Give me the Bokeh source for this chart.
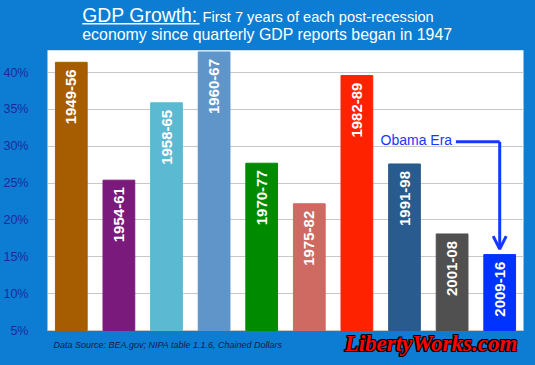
import math
from bokeh.plotting import figure
from bokeh.models import Range1d, FixedTicker, PrintfTickFormatter, Arrow, OpenHead, ColumnDataSource
from bokeh.core.properties import value
from bokeh.embed import file_html
from bokeh.resources import INLINE

# GDP growth over the first 7 years of each post-recession expansion (%)
periods = ["1949-56", "1954-61", "1958-65", "1960-67", "1970-77",
           "1975-82", "1982-89", "1991-98", "2001-08", "2009-16"]
growth = [41.4, 25.4, 35.9, 42.8, 27.7, 22.2, 39.6, 27.6, 18.1, 15.3]
bar_colors = ["#a65c00", "#7a1a7c", "#5bb9d1", "#5f95c8", "#008a00",
              "#cf6a62", "#ff2200", "#2a5b8e", "#505050", "#0033ff"]
y_ticks = [5, 10, 15, 20, 25, 30, 35, 40]
y_min, y_max = 5, 43

BG = "#0c7dd2"
W, H = 535, 365
LEFT, RIGHT = 44, 12          # page margins beside the white chart panel
PANEL_TOP, PANEL_BOTTOM = 50, 330   # page rows of the white chart panel

# The plotting frame spans the full page height so the heading and the
# source line share it; the value range is widened to keep the panel in place.
ppu = (PANEL_BOTTOM - PANEL_TOP) / (y_max - y_min)
y_lo = y_min - (H - PANEL_BOTTOM) / ppu
y_hi = y_max + PANEL_TOP / ppu

p = figure(width=W, height=H, output_backend="svg", toolbar_location=None,
           x_range=Range1d(-0.5, len(periods) - 0.5), y_range=Range1d(y_lo, y_hi),
           min_border_left=LEFT, min_border_right=RIGHT,
           min_border_top=0, min_border_bottom=0,
           background_fill_color=BG, border_fill_color=BG,
           outline_line_color=None)
p.styles = {"background-color": BG}
# page-pixel coordinates (y grows downward) for the heading and footer text
p.extra_y_ranges = {"px": Range1d(H, 0)}

p.xaxis.visible = False
p.xgrid.visible = False

# white chart panel beneath the grid
p.quad(left=[-0.5], right=[len(periods) - 0.5], bottom=[y_min], top=[y_max],
       fill_color="white", line_color="#cfe0f2", line_width=1, level="image")

p.ygrid.grid_line_color = "#c8c8c8"
p.ygrid.grid_line_width = 1.2
p.ygrid.ticker = FixedTicker(ticks=y_ticks)

ax = p.yaxis[0]
ax.ticker = FixedTicker(ticks=y_ticks)
ax.formatter = PrintfTickFormatter(format="%d%%")
ax.axis_line_color = None
ax.major_tick_line_color = None
ax.minor_tick_line_color = None
ax.major_label_standoff = 13
ax.major_label_text_font = "Liberation Sans"
ax.major_label_text_font_size = "12.5px"
ax.major_label_text_color = "#1a2a9e"

src = ColumnDataSource(dict(x=list(range(len(periods))), top=growth,
                            color=bar_colors, label=periods))
p.vbar(x="x", top="top", bottom=y_min, width=0.667, color="color", source=src)

sans = value("Liberation Sans")

# period names written up the inside of each bar
p.text(x="x", y="top", text="label", source=src, angle=math.pi / 2,
       text_align="right", text_baseline="middle", y_offset=7,
       text_color="white", text_font=sans,
       text_font_style="bold", text_font_size="15px")

# "Obama Era" callout pointing at the last bar
era_color = "#1438ff"
era_y = 30.6
last = len(periods) - 1
p.text(x=[last - 1], y=[era_y + 0.3], text=["Obama Era"], text_align="right",
       text_baseline="middle", text_color=era_color,
       text_font=sans, text_font_size="14px")
p.line(x=[last - 0.92, last], y=[era_y, era_y], line_color=era_color, line_width=3)
p.add_layout(Arrow(x_start=last, y_start=era_y, x_end=last, y_end=growth[last] + 0.75,
                   line_color=era_color, line_width=3,
                   end=OpenHead(size=13, line_color=era_color, line_width=3)))

# ---- heading (page pixels) -----------------------------------------------
# horizontal page pixel -> x value
def px_x(col):
    return -0.5 + (col - LEFT) * len(periods) / (W - LEFT - RIGHT)


def page_text(col, row, txt, **kw):
    p.text(x=[px_x(col)], y=[row], text=[txt], y_range_name="px",
           text_baseline="middle", **kw)


page_text(79, 14, "GDP Growth:", text_color="white", text_font=sans,
          text_font_size="19.4px")
p.segment(x0=[px_x(79)], y0=[23.3], x1=[px_x(197)], y1=[23.3], y_range_name="px",
          line_color="white", line_width=1.5)
page_text(200, 16, "First 7 years of each post-recession", text_color="white",
          text_font=sans, text_font_size="14.6px")
page_text(79, 34, "economy since quarterly GDP reports began in 1947",
          text_color="white", text_font=sans, text_font_size="15.9px")

# ---- footer --------------------------------------------------------------
page_text(50, 344, "Data Source: BEA.gov; NIPA table 1.1.6, Chained Dollars",
          text_color="#1a1a44", text_font=sans, text_font_style="italic",
          text_font_size="9px")

serif = value("Liberation Serif")
mark = dict(text_font=serif, text_font_style="bold italic", text_font_size="23px")
# black outline behind the red lettering
for dx, dy in [(-1, -1), (-1, 0), (-1, 1), (0, -1), (0, 1), (1, -1), (1, 0), (1, 1)]:
    page_text(343, 343, "LibertyWorks.com", x_offset=dx, y_offset=dy,
              text_color="black", **mark)
page_text(343, 343, "LibertyWorks.com", text_color="#ff0000", **mark)

open("out.html", "w").write(file_html(p, INLINE))
